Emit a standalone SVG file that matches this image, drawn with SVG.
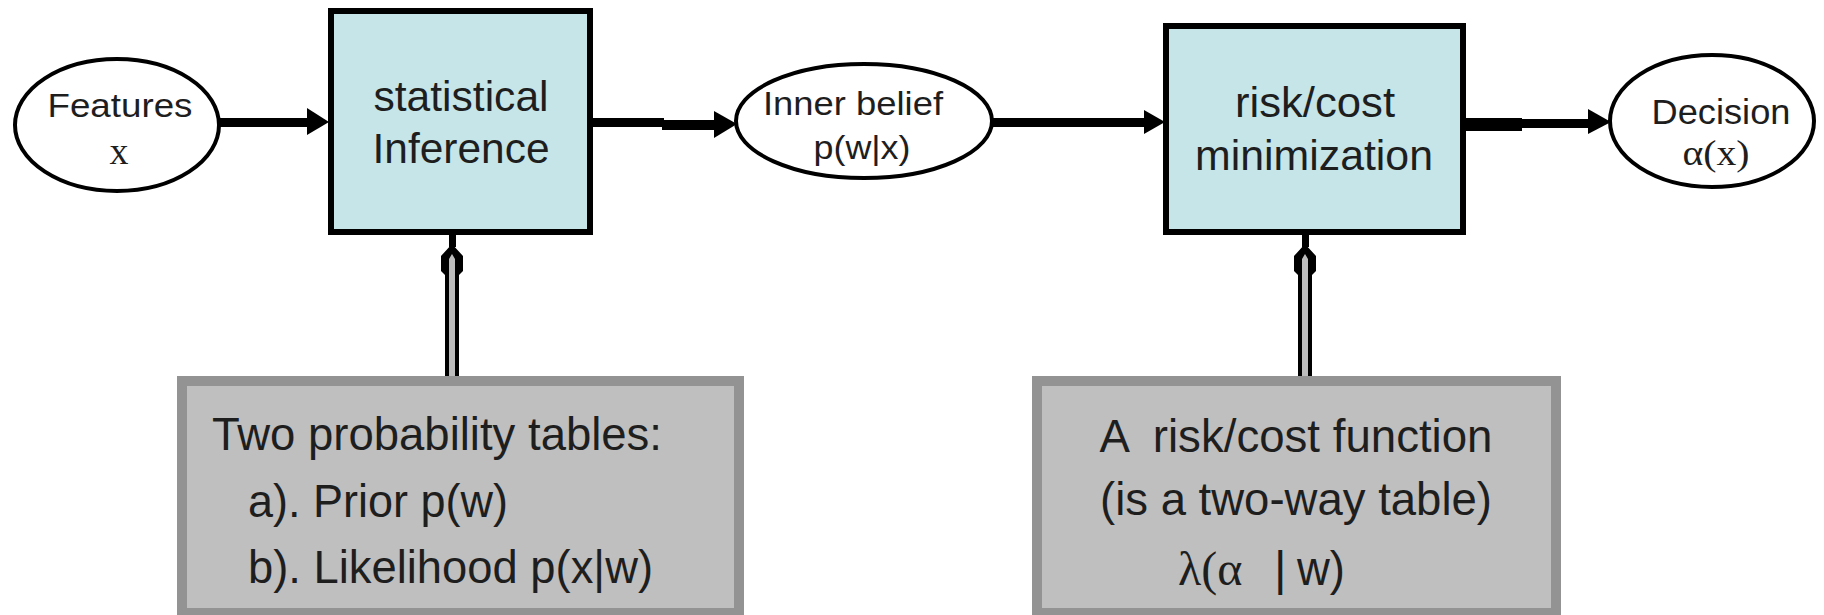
<svg xmlns="http://www.w3.org/2000/svg" width="1824" height="615" viewBox="0 0 1824 615">
<style>
.oval{fill:#ffffff;stroke:#000000;stroke-width:4}
.box{fill:#c6e5e9;stroke:#000000;stroke-width:6}
.gbox{fill:#bfbfbf;stroke:#939393;stroke-width:10}
.t{font-family:"Liberation Sans",Arial,sans-serif;fill:#1e1e1e}
.s{font-family:"Liberation Serif","Times New Roman",serif;fill:#1e1e1e}
.c{text-anchor:middle}
.ln{fill:#000000}
.hd{fill:#000000}
.shaft{fill:#bdbdbd}
</style>
<rect width="1824" height="615" fill="#ffffff"/>
<g id="connectors">
  <!-- Features -> statistical Inference -->
  <rect class="ln" x="219" y="118" width="92" height="9"/>
  <polygon class="hd" points="307,108 329,122 307,135"/>
  <!-- statistical Inference -> Inner belief -->
  <rect class="ln" x="592" y="118" width="72" height="9"/>
  <rect class="ln" x="662" y="120" width="56" height="10"/>
  <polygon class="hd" points="714,111 737,124 714,138"/>
  <!-- Inner belief -> risk/cost minimization -->
  <rect class="ln" x="992" y="118" width="156" height="9"/>
  <polygon class="hd" points="1144,110 1165,122 1144,134"/>
  <!-- risk/cost minimization -> Decision -->
  <rect class="ln" x="1465" y="118" width="57" height="13"/>
  <rect class="ln" x="1520" y="119" width="72" height="9"/>
  <polygon class="hd" points="1588,109 1611,122 1588,134"/>
  <!-- prob tables -> statistical Inference -->
  <rect class="ln" x="449" y="233" width="7" height="14"/>
  <polygon class="hd" points="452,244 463,256 463,271 459,275 459,384 445,384 445,275 441,271 441,256"/>
  <polygon class="shaft" points="452,254 455,259 455,384 449,384 449,259"/>
  <!-- risk function -> risk/cost minimization -->
  <rect class="ln" x="1302" y="233" width="7" height="14"/>
  <polygon class="hd" points="1305,244 1316,256 1316,271 1312,275 1312,384 1298,384 1298,275 1294,271 1294,256"/>
  <polygon class="shaft" points="1305,254 1308,259 1308,384 1302,384 1302,259"/>
</g>
<g id="features">
  <ellipse class="oval" cx="117" cy="125" rx="102" ry="66"/>
  <text class="t c" x="120" y="117" font-size="34" textLength="145" lengthAdjust="spacingAndGlyphs">Features</text>
  <text class="s c" x="119" y="164" font-size="38">x</text>
</g>
<g id="inference">
  <rect class="box" x="331" y="11" width="259" height="221"/>
  <text class="t c" x="461" y="111" font-size="42" textLength="175" lengthAdjust="spacingAndGlyphs">statistical</text>
  <text class="t c" x="461" y="163" font-size="42" textLength="177" lengthAdjust="spacingAndGlyphs">Inference</text>
</g>
<g id="belief">
  <ellipse class="oval" cx="864" cy="121" rx="128" ry="57"/>
  <text class="t c" x="853" y="115" font-size="34" textLength="180" lengthAdjust="spacingAndGlyphs">Inner belief</text>
  <text class="t c" x="862" y="159" font-size="34" textLength="97" lengthAdjust="spacingAndGlyphs">p(w|x)</text>
</g>
<g id="risk">
  <rect class="box" x="1166" y="26" width="297" height="206"/>
  <text class="t c" x="1315" y="117" font-size="42" textLength="160" lengthAdjust="spacingAndGlyphs">risk/cost</text>
  <text class="t c" x="1314" y="170" font-size="42" textLength="238" lengthAdjust="spacingAndGlyphs">minimization</text>
</g>
<g id="decision">
  <ellipse class="oval" cx="1712" cy="121" rx="102" ry="66"/>
  <text class="t c" x="1721" y="124" font-size="35" textLength="139" lengthAdjust="spacingAndGlyphs">Decision</text>
  <text class="s c" x="1716" y="165" font-size="36" textLength="67" lengthAdjust="spacingAndGlyphs">α(x)</text>
</g>
<g id="tables">
  <rect class="gbox" x="182" y="381" width="557" height="232"/>
  <text class="t" x="212" y="450" font-size="47" textLength="450" lengthAdjust="spacingAndGlyphs">Two probability tables:</text>
  <text class="t" x="248" y="517" font-size="47" textLength="260" lengthAdjust="spacingAndGlyphs">a). Prior p(w)</text>
  <text class="t" x="248" y="583" font-size="47" textLength="405" lengthAdjust="spacingAndGlyphs">b). Likelihood p(x|w)</text>
</g>
<g id="riskfunction">
  <rect class="gbox" x="1037" y="381" width="519" height="232"/>
  <text class="t c" x="1296" y="452" font-size="47" xml:space="preserve" textLength="393" lengthAdjust="spacingAndGlyphs">A  risk/cost function</text>
  <text class="t c" x="1296" y="515" font-size="47" textLength="392" lengthAdjust="spacingAndGlyphs">(is a two-way table)</text>
  <text x="1178" y="585" font-size="48"><tspan class="s">λ(α</tspan><tspan class="t" x="1274">|</tspan><tspan class="t" x="1297" textLength="48" lengthAdjust="spacingAndGlyphs">w)</tspan></text>
</g>
</svg>
